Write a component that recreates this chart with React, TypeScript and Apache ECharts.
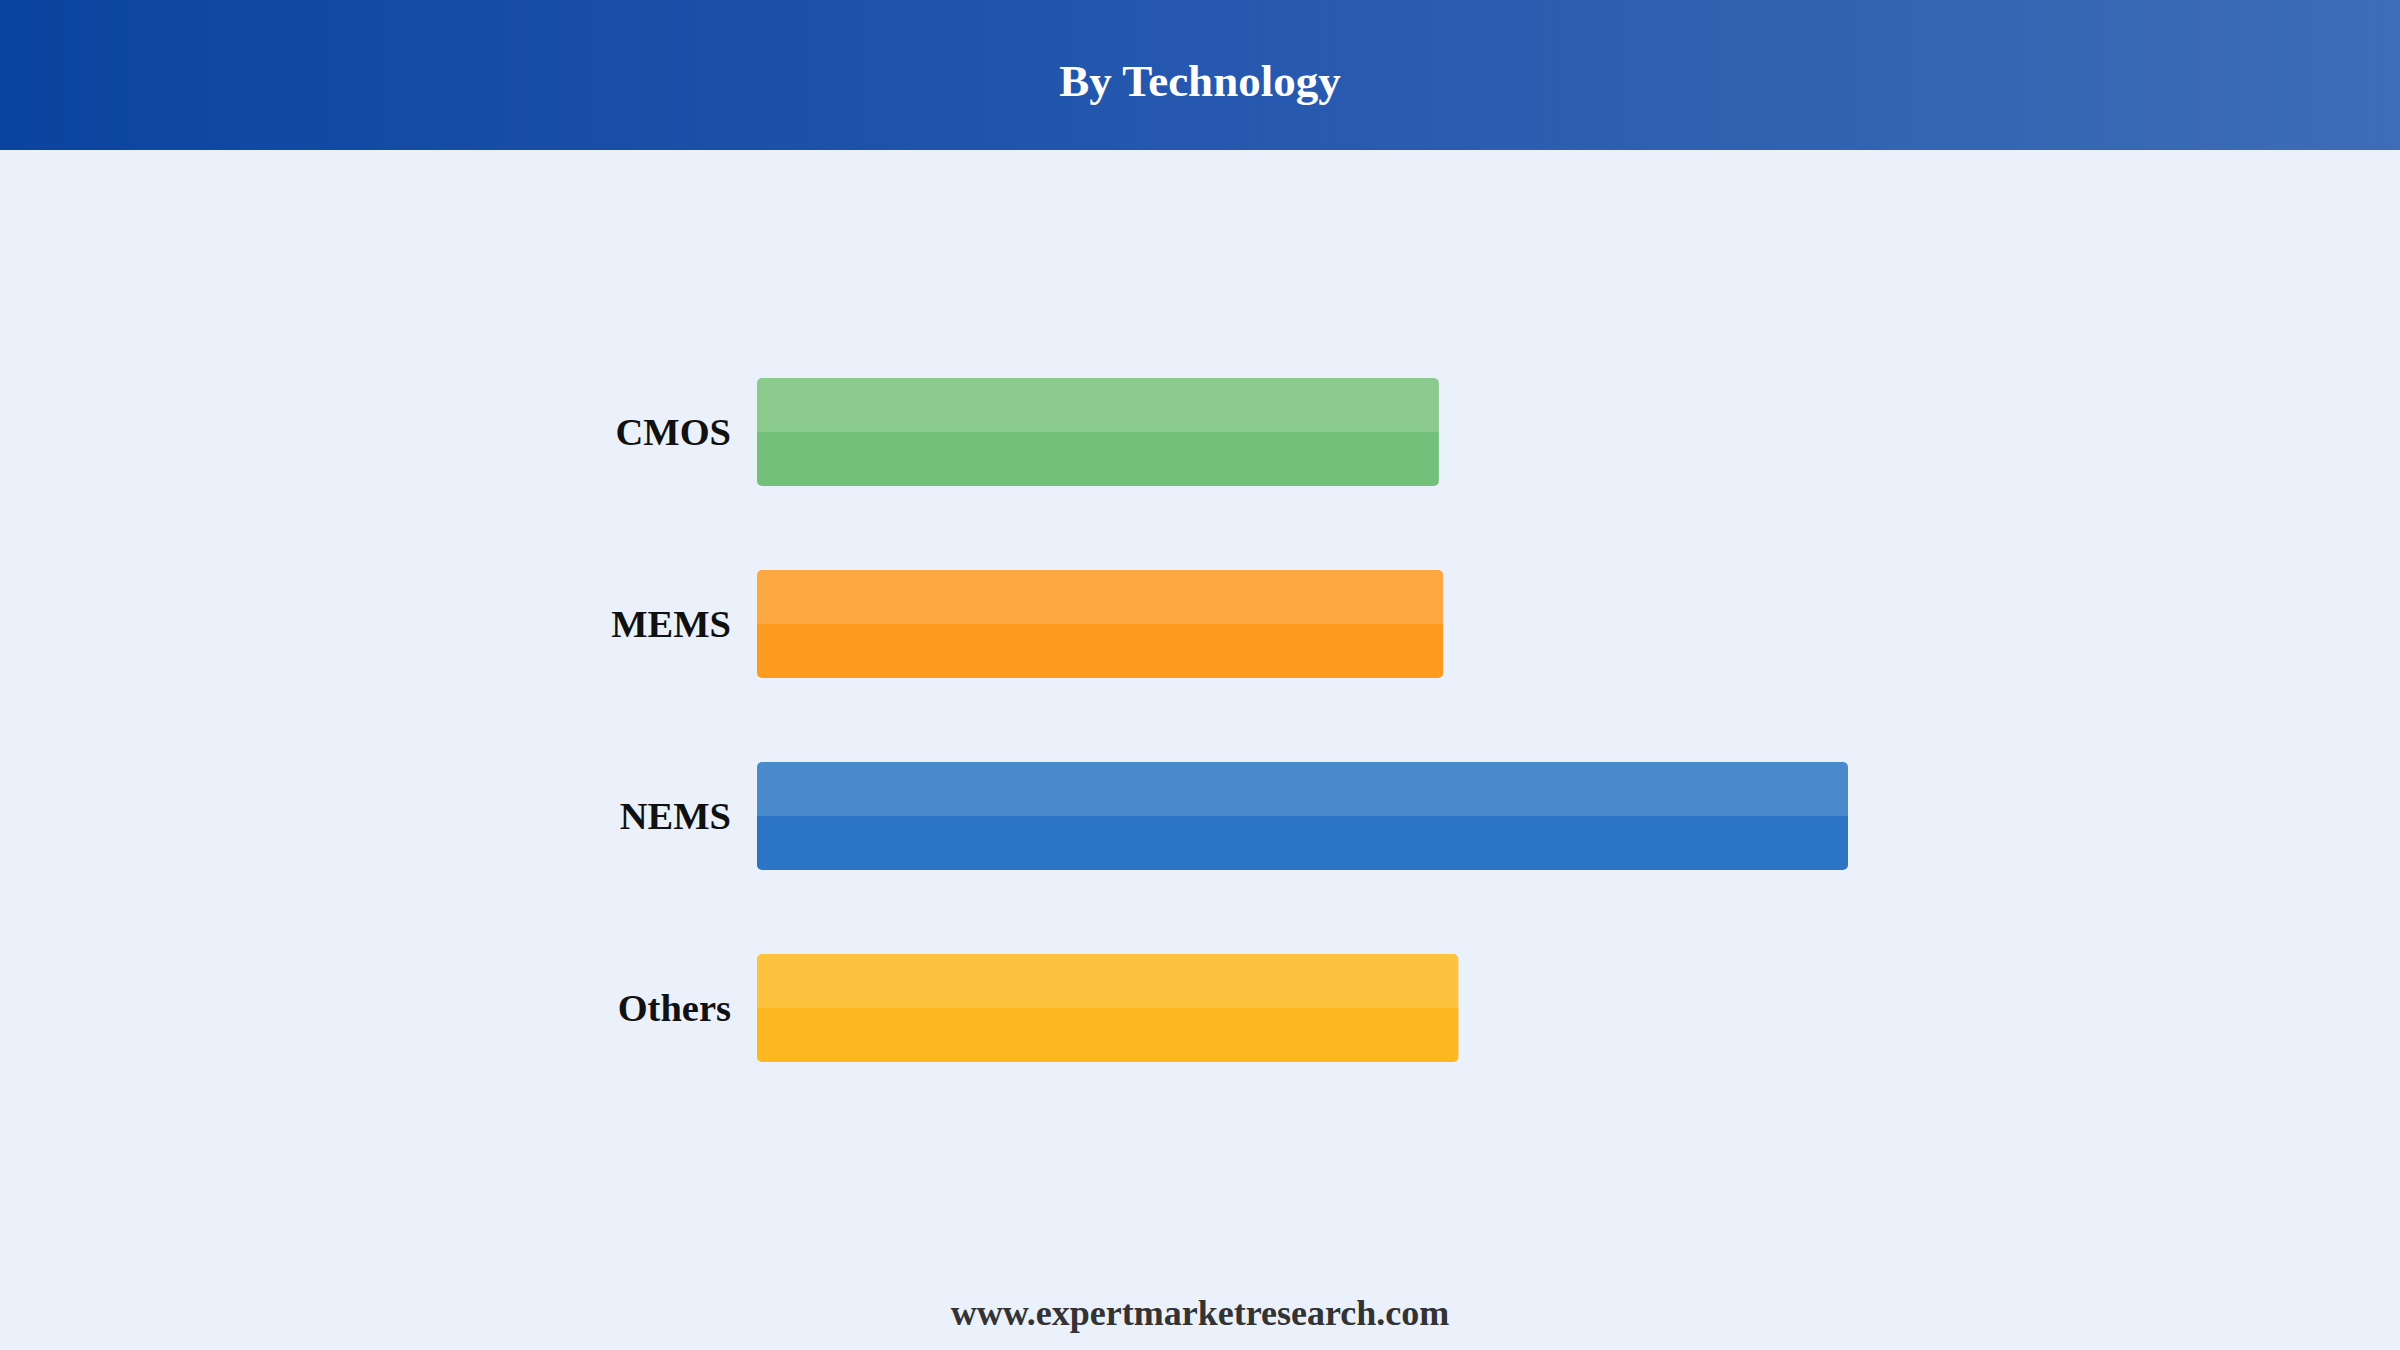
import React, { useEffect, useRef } from "react";
import * as echarts from "echarts";

const categories = ["CMOS", "MEMS", "NEMS", "Others"];
const values = [62.5, 62.9, 100, 64.3];
const lightColors = ["#8BCB8D", "#FDA840", "#4B89CD", "#FDC33E"];
const darkColors = ["#73C07A", "#FD9B1E", "#2C74C5", "#FDB81F"];
const titleText = "By Technology";
const footerText = "www.expertmarketresearch.com";

const FONT = "'Liberation Serif', 'Times New Roman', Times, serif";

export default function App() {
  const ref = useRef<HTMLDivElement>(null);
  useEffect(() => {
    document.body.style.margin = "0";
    const chart = echarts.init(ref.current!, null, { renderer: "svg" });
    const data = values.map((v, i) => ({
      value: v,
      itemStyle: {
        color: new echarts.graphic.LinearGradient(0, 0, 0, 1, [
          { offset: 0, color: lightColors[i] },
          { offset: 0.5, color: lightColors[i] },
          { offset: 0.5, color: darkColors[i] },
          { offset: 1, color: darkColors[i] },
        ]),
        borderRadius: 5,
      },
    }));
    chart.setOption({
      animation: false,
      backgroundColor: "#EAF1FB",
      graphic: [
        {
          type: "rect",
          shape: { x: 0, y: 0, width: 2400, height: 150 },
          style: {
            fill: new echarts.graphic.LinearGradient(0, 0, 1, 0, [
              { offset: 0, color: "#0B44A0" },
              { offset: 0.5, color: "#2558AE" },
              { offset: 1, color: "#3D6DB6" },
            ]),
          },
          z: 0,
        },
        {
          type: "text",
          x: 1200,
          y: 81,
          style: {
            text: titleText,
            fill: "#FFFFFF",
            font: `bold 45px ${FONT}`,
            textAlign: "center",
            textVerticalAlign: "middle",
          },
          z: 1,
        },
        {
          type: "text",
          x: 1200,
          y: 1313,
          style: {
            text: footerText,
            fill: "#333333",
            font: `bold 36px ${FONT}`,
            textAlign: "center",
            textVerticalAlign: "middle",
          },
          z: 1,
        },
      ],
      grid: { left: 757, width: 1091, top: 336, height: 768, containLabel: false },
      xAxis: { type: "value", min: 0, max: 100, show: false },
      yAxis: {
        type: "category",
        data: categories,
        inverse: true,
        axisLine: { show: false },
        axisTick: { show: false },
        splitLine: { show: false },
        axisLabel: {
          fontFamily: FONT,
          fontWeight: "bold",
          fontSize: 38.5,
          color: "#111111",
          margin: 26,
        },
      },
      series: [
        {
          type: "bar",
          data,
          barWidth: 108,
        },
      ],
    });
    return () => chart.dispose();
  }, []);
  return <div ref={ref} style={{ width: 2400, height: 1350 }} />;
}
